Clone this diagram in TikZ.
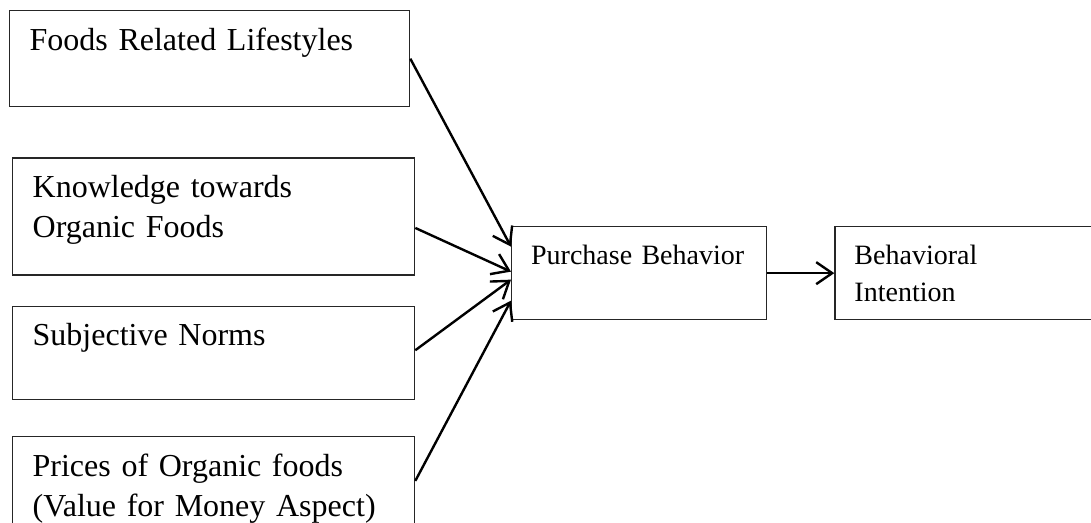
\documentclass[tikz,border=0pt]{standalone}
\usepackage{fontspec}
\setmainfont{Liberation Serif}
\usetikzlibrary{arrows.meta,positioning}

\begin{document}
\begin{tikzpicture}[x=1pt, y=1pt, every node/.style={font=\fontsize{32}{40.5}\selectfont}, factor/.style 2 args={draw=black!85, line width=1.3pt, align=left, inner xsep=20pt, inner ysep=17.5pt, text height=22pt, text width=#1, text depth=#2}, outcome/.style={font=\fontsize{28}{36.7}\selectfont, inner xsep=19.5pt, text height=20.5pt}, arr/.style={-{Straight Barb[length=16pt,width=22pt]}, line width=2.4pt}]
\useasboundingbox (0,0) rectangle (1091,522);
\node[factor={360pt}{39pt}, anchor=north west] (life) at (9,512) {Foods Related Lifestyles};
\node[factor={362pt}{60pt}, below=50pt of life.south west, anchor=north west, xshift=3pt] (know) {Knowledge towards\\Organic Foods};
\node[factor={362pt}{36pt}, below=30pt of know.south west, anchor=north west] (norms) {Subjective Norms};
\node[factor={362pt}{60pt}, below=36pt of norms.south west, anchor=north west] (price) {Prices of Organic foods\\(Value for Money Aspect)};
\node[factor={216pt}{37.5pt}, outcome, anchor=north west] (purch) at (511,296) {Purchase Behavior};
\node[factor={261pt}{37.5pt}, outcome, right=67pt of purch] (intent) {Behavioral\\Intention};
\draw[arr] (life.east) -- ([yshift=26.5pt]purch.west);
\draw[arr] ([yshift=-11.5pt]know.east) -- ([yshift=1.5pt]purch.west);
\draw[arr] ([yshift=2.5pt]norms.east) -- ([yshift=-6.5pt]purch.west);
\draw[arr] ([yshift=-45pt]price.north east) -- ([yshift=-27.5pt]purch.west);
\draw[arr] (purch) -- (intent);
\end{tikzpicture}
\end{document}
